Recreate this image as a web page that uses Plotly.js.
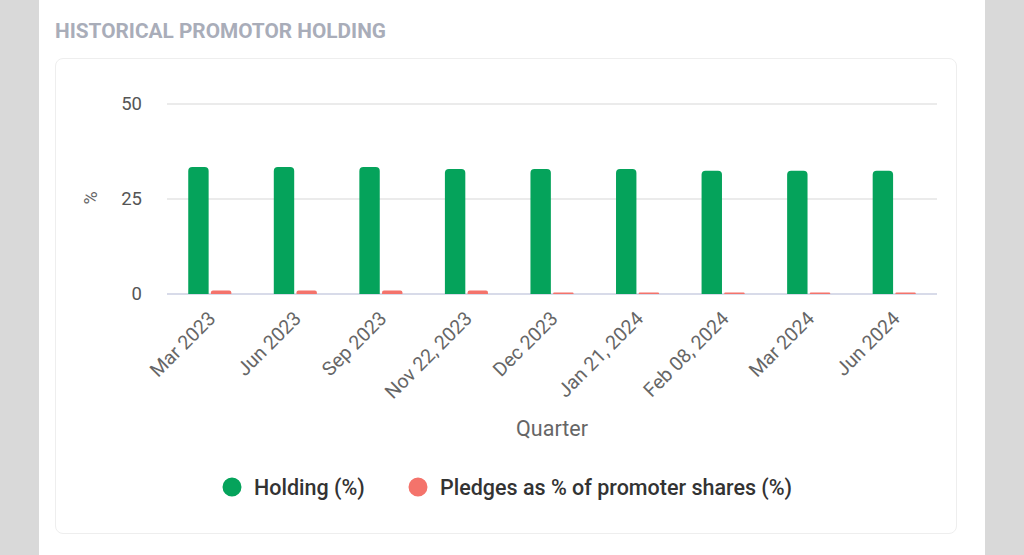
<!DOCTYPE html>
<html>
<head>
<meta charset="utf-8">
<script src="https://cdn.plot.ly/plotly-3.0.1.min.js"></script>
<style>
  body { margin: 0; background: #d9d9d9; }
  #page { position: absolute; left: 39px; top: 0; width: 946px; height: 555px; background: #fff; }
  #card { position: absolute; left: 55px; top: 58px; width: 900px; height: 474px;
          border: 1px solid #eeeeee; border-radius: 8px; }
  #chart { position: absolute; left: 0; top: 0; width: 1024px; height: 555px; }
</style>
</head>
<body>
<div id="page"></div>
<div id="card"></div>
<div id="chart"></div>
<script>
// quarters on the x axis
const quarters = ["Mar 2023", "Jun 2023", "Sep 2023", "Nov 22, 2023", "Dec 2023",
                  "Jan 21, 2024", "Feb 08, 2024", "Mar 2024", "Jun 2024"];
// promoter holding (%)
const holding = [33.4, 33.4, 33.4, 32.9, 32.9, 32.9, 32.4, 32.4, 32.4];
// pledges as % of promoter shares
const pledges = [0.9, 0.9, 0.9, 0.9, 0.4, 0.4, 0.4, 0.4, 0.4];

const green = "#05a35b";
const red = "#f4736b";

const data = [
  {type: "bar", x: quarters, y: holding, name: "Holding (%)", showlegend: false,
   marker: {color: green, cornerradius: 4}},
  {type: "bar", x: quarters, y: pledges, name: "Pledges as % of promoter shares (%)", showlegend: false,
   marker: {color: red, cornerradius: 2}},
  // legend dots, one legend each so the spacing can be set
  {type: "scatter", mode: "markers", x: [null], y: [null], name: "Holding (%)", legend: "legend",
   marker: {color: green, size: 16, symbol: "circle", line: {color: green, width: 3}}},
  {type: "scatter", mode: "markers", x: [null], y: [null], name: "Pledges as % of promoter shares (%)",
   legend: "legend2",
   marker: {color: red, size: 16, symbol: "circle", line: {color: red, width: 3}}}
];

const legendBase = {orientation: "h", xref: "container", xanchor: "left",
                    yref: "container", y: 1 - 487/555, yanchor: "middle",
                    font: {size: 21.5, color: "#333", weight: 500}, itemwidth: 34};

const layout = {
  width: 1024, height: 555,
  paper_bgcolor: "rgba(0,0,0,0)", plot_bgcolor: "rgba(0,0,0,0)",
  margin: {l: 167, r: 87, t: 102, b: 261},
  font: {family: "Roboto, sans-serif", color: "#666"},
  title: {text: "HISTORICAL PROMOTOR HOLDING", xref: "container", yref: "container",
          x: 55/1024, xanchor: "left", y: 1 - 31/555, yanchor: "middle",
          font: {family: "Roboto", size: 20.8, weight: 700, color: "#a9adb9"}},
  barmode: "group", bargap: 0.47, bargroupgap: 0.1,
  xaxis: {tickangle: -45, tickfont: {size: 19.5, color: "#666"}, showgrid: false,
          title: {text: "Quarter", font: {size: 21.5, color: "#666"}, standoff: 18},
          automargin: false, ticks: "", showline: false, ticklabelstandoff: 8},
  yaxis: {range: [0, 50.5], dtick: 25, tickfont: {size: 18.5, color: "#555"},
          gridcolor: "#ebebeb", gridwidth: 1.5, zeroline: true, zerolinecolor: "#d8dbe9", zerolinewidth: 2,
          title: {text: "%", font: {size: 18, color: "#666"}, standoff: 18},
          ticklabelstandoff: 24, automargin: false},
  legend: Object.assign({}, legendBase, {x: 210/1024}),
  legend2: Object.assign({}, legendBase, {x: 396/1024}),
  showlegend: true
};

Plotly.newPlot("chart", data, layout, {displayModeBar: false, staticPlot: true});
</script>
</body>
</html>
